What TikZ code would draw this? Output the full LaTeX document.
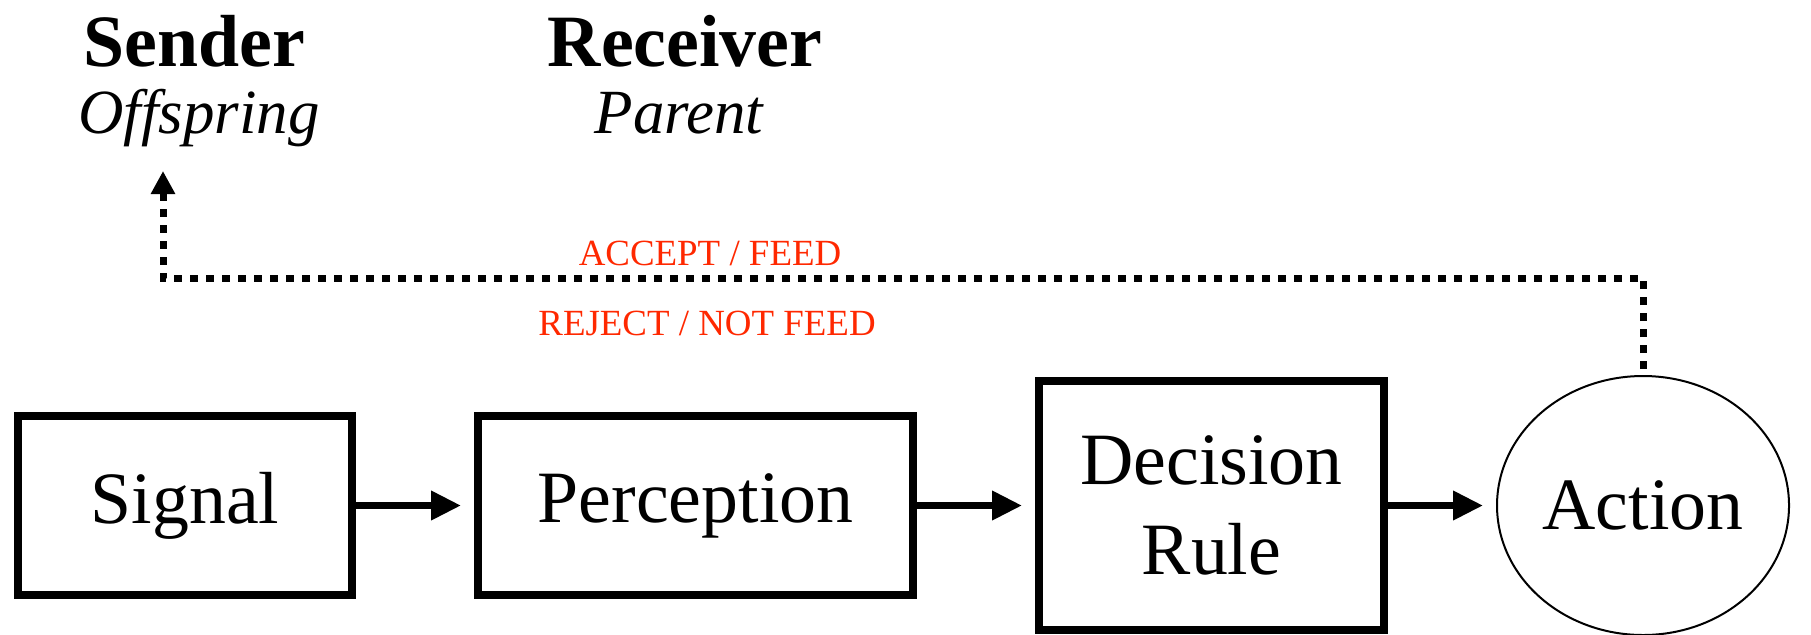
\documentclass[tikz,border=0pt]{standalone}
\usepackage{fontspec}
\setmainfont{Liberation Serif}
\usetikzlibrary{arrows.meta,shapes.geometric}
\definecolor{choicered}{RGB}{255,40,0}

\begin{document}
\begin{tikzpicture}[
        stage/.style={draw, line width=0.08cm, minimum height=1.79cm, inner sep=0pt, align=center, font=\fontsize{21}{25.6}\selectfont},
        flow/.style={line width=0.07cm, -{Triangle[length=0.30cm, width=0.28cm]}, shorten >=0.13cm},
        feedback/.style={line width=0.07cm, dash pattern=on 0.08cm off 0.08cm, shorten <=0.06cm, -{Triangle[length=0.23cm, width=0.23cm]}},
        role/.style={anchor=base, font=\fontsize{21}{25}\selectfont\bfseries},
        who/.style={anchor=base, font=\fontsize{17.9}{22}\selectfont\itshape},
        choice/.style={anchor=base, text=choicered, font=\fontsize{10.5}{12}\selectfont}
    ]
        \useasboundingbox (0, 0) rectangle (18.11, 6.34);

        % Sender and receiver
        \node [role] (sender) at (1.945, 5.68) {Sender};
        \node [who] (offspring) at (1.99, 5.01) {Offspring};
        \node [role] (receiver) at (6.85, 5.68) {Receiver};
        \node [who] (parent) at (6.79, 5.01) {Parent};

        % Stages
        \node [stage, minimum width=3.34cm] (signal) at (1.85, 1.285) {Signal};
        \node [stage, minimum width=4.35cm] (perception) at (6.955, 1.285) {Perception};
        \node [stage, minimum width=3.45cm, minimum height=2.49cm] (decision) at (12.115, 1.285) {Decision\\Rule};
        \node [draw, ellipse, line width=0.02cm, minimum width=2.92cm, minimum height=2.59cm, inner sep=0pt, font=\fontsize{21}{25.6}\selectfont] (action) at (16.43, 1.285) {Action};

        \draw [flow] (signal) -- (perception);
        \draw [flow] (perception) -- (decision);
        \draw [flow] (decision) -- (action);

        % Feedback to the sender
        \coordinate (turn) at (1.63, 3.56);
        \coordinate (tip) at (1.63, 4.63);
        \draw [feedback] (action.north) |- (turn) -- (tip);
        \node [choice] (accept) at (7.10, 3.69) {ACCEPT / FEED};
        \node [choice] (reject) at (7.07, 2.99) {REJECT / NOT FEED};
    \end{tikzpicture}
\end{document}
